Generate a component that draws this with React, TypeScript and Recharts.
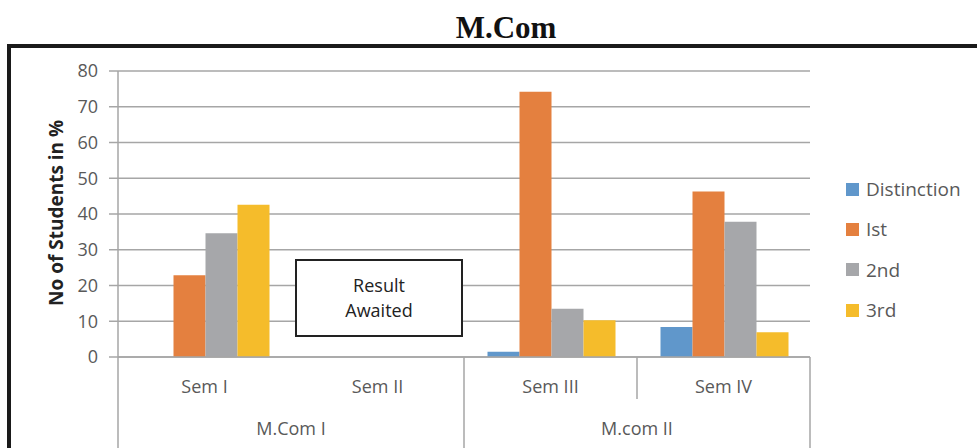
import React from 'react';
import { BarChart, Bar, XAxis, YAxis, CartesianGrid } from 'recharts';

// categories, grouped two-level like the original spreadsheet chart
const semesters = ['Sem I', 'Sem II', 'Sem III', 'Sem IV'];
const groups = ['M.Com I', 'M.Com I', 'M.com II', 'M.com II'];

// % of students per class (Sem II: result awaited)
const distinction = [null, null, 1.5, 8.4];
const first = [22.9, null, 74.2, 46.3];
const second = [34.6, null, 13.5, 37.8];
const third = [42.6, null, 10.3, 6.9];

const yTicks = [0, 10, 20, 30, 40, 50, 60, 70, 80];

const series = [
  { key: 'distinction', name: 'Distinction', color: '#6097cb', values: distinction },
  { key: 'first', name: 'Ist', color: '#e4803f', values: first },
  { key: 'second', name: '2nd', color: '#a6a7aa', values: second },
  { key: 'third', name: '3rd', color: '#f5bc2b', values: third },
];

const chartData = semesters.map((sem, i) => {
  const row: Record<string, string | number | null> = { sem, group: groups[i] };
  series.forEach(s => {
    row[s.key] = s.values[i];
  });
  return row;
});

const W = 977;
const H = 448;
const margin = { top: 71, right: 167, bottom: 0, left: 58 };
const Y_AXIS_W = 60;
const X_AXIS_H = 91;
const plotLeft = margin.left + Y_AXIS_W;
const plotRight = W - margin.right;
const band = (plotRight - plotLeft) / semesters.length;

const FONT = '"Open Sans", "Noto Sans", sans-serif';
const TEXT = '#595959';
const LINE = '#a6a6a6';

const CategoryTick = (props: any) => {
  const { x, y, payload } = props;
  const i = payload.index;
  const g = groups[i];
  const isStart = i === 0 || groups[i - 1] !== g;
  const isLast = i === groups.length - 1;
  const count = groups.filter(v => v === g).length;
  const left = x - band / 2;
  // the original only shows the short inner divider inside the second group
  const innerDivider = !isStart && g === groups[groups.length - 1];
  return (
    <g>
      <text x={x} y={y + 36} textAnchor="middle" fill={TEXT} fontSize={18} fontFamily={FONT}>
        {payload.value}
      </text>
      {isStart && <line x1={left} x2={left} y1={y} y2={H} stroke={LINE} strokeWidth={1.5} />}
      {innerDivider && <line x1={left} x2={left} y1={y} y2={y + 42} stroke={LINE} strokeWidth={1.5} />}
      {isLast && (
        <line x1={x + band / 2} x2={x + band / 2} y1={y} y2={H} stroke={LINE} strokeWidth={1.5} />
      )}
      {isStart && (
        <text
          x={x + ((count - 1) * band) / 2}
          y={y + 78}
          textAnchor="middle"
          fill={TEXT}
          fontSize={18}
          fontFamily={FONT}
        >
          {g}
        </text>
      )}
    </g>
  );
};

export default function App() {
  return (
    <div
      style={{
        position: 'fixed',
        left: 0,
        top: 0,
        width: W,
        height: H,
        background: '#fff',
        overflow: 'hidden',
      }}
    >
      <div
        style={{
          position: 'absolute',
          left: 0,
          top: 10,
          width: 1012,
          textAlign: 'center',
          fontFamily: '"Liberation Serif", serif',
          fontWeight: 'bold',
          fontSize: 31,
          lineHeight: '36px',
          color: '#111',
        }}
      >
        M.Com
      </div>
      <div
        style={{
          position: 'absolute',
          left: 7,
          top: 44,
          width: 1000,
          height: 500,
          border: '4.5px solid #1a1a1a',
          boxSizing: 'border-box',
        }}
      />
      <div style={{ position: 'absolute', left: 0, top: 0 }}>
        <BarChart width={W} height={H} data={chartData} margin={margin} barGap={0} barCategoryGap={23.5}>
          <CartesianGrid vertical={false} stroke={LINE} strokeWidth={1.5} />
          <XAxis
            dataKey="sem"
            height={X_AXIS_H}
            tickLine={false}
            tickSize={0}
            tickMargin={0}
            axisLine={{ stroke: LINE, strokeWidth: 1.5 }}
            tick={<CategoryTick />}
            interval={0}
          />
          <YAxis
            width={Y_AXIS_W}
            domain={[0, 80]}
            ticks={yTicks}
            interval={0}
            tickSize={9}
            tickMargin={11}
            axisLine={{ stroke: LINE, strokeWidth: 1.5 }}
            tickLine={{ stroke: LINE, strokeWidth: 1.5 }}
            tick={{ fill: TEXT, fontSize: 18, fontFamily: FONT }}
            label={{
              value: 'No of Students in %',
              angle: -90,
              position: 'insideLeft',
              dx: -7,
              dy: 92,
              style: { fill: '#222', fontSize: 19, fontWeight: 'bold', fontFamily: FONT },
            }}
          />
          {series.map(s => (
            <Bar key={s.key} dataKey={s.key} name={s.name} fill={s.color} isAnimationActive={false} />
          ))}
        </BarChart>
      </div>
      <div
        style={{
          position: 'absolute',
          left: 295,
          top: 259,
          width: 168,
          height: 78,
          border: '2px solid #222',
          boxSizing: 'border-box',
          background: '#fff',
          display: 'flex',
          flexDirection: 'column',
          alignItems: 'center',
          justifyContent: 'center',
          fontFamily: FONT,
          fontSize: 18,
          lineHeight: '25px',
          color: '#222',
        }}
      >
        <span>Result</span>
        <span>Awaited</span>
      </div>
      <div style={{ position: 'absolute', left: 846, top: 169, fontFamily: FONT }}>
        {series.map(s => (
          <div key={s.key} style={{ display: 'flex', alignItems: 'center', height: 40.3 }}>
            <span style={{ width: 13, height: 13, background: s.color, display: 'inline-block', marginRight: 7 }} />
            <span style={{ fontSize: 19, color: TEXT }}>{s.name}</span>
          </div>
        ))}
      </div>
    </div>
  );
}
